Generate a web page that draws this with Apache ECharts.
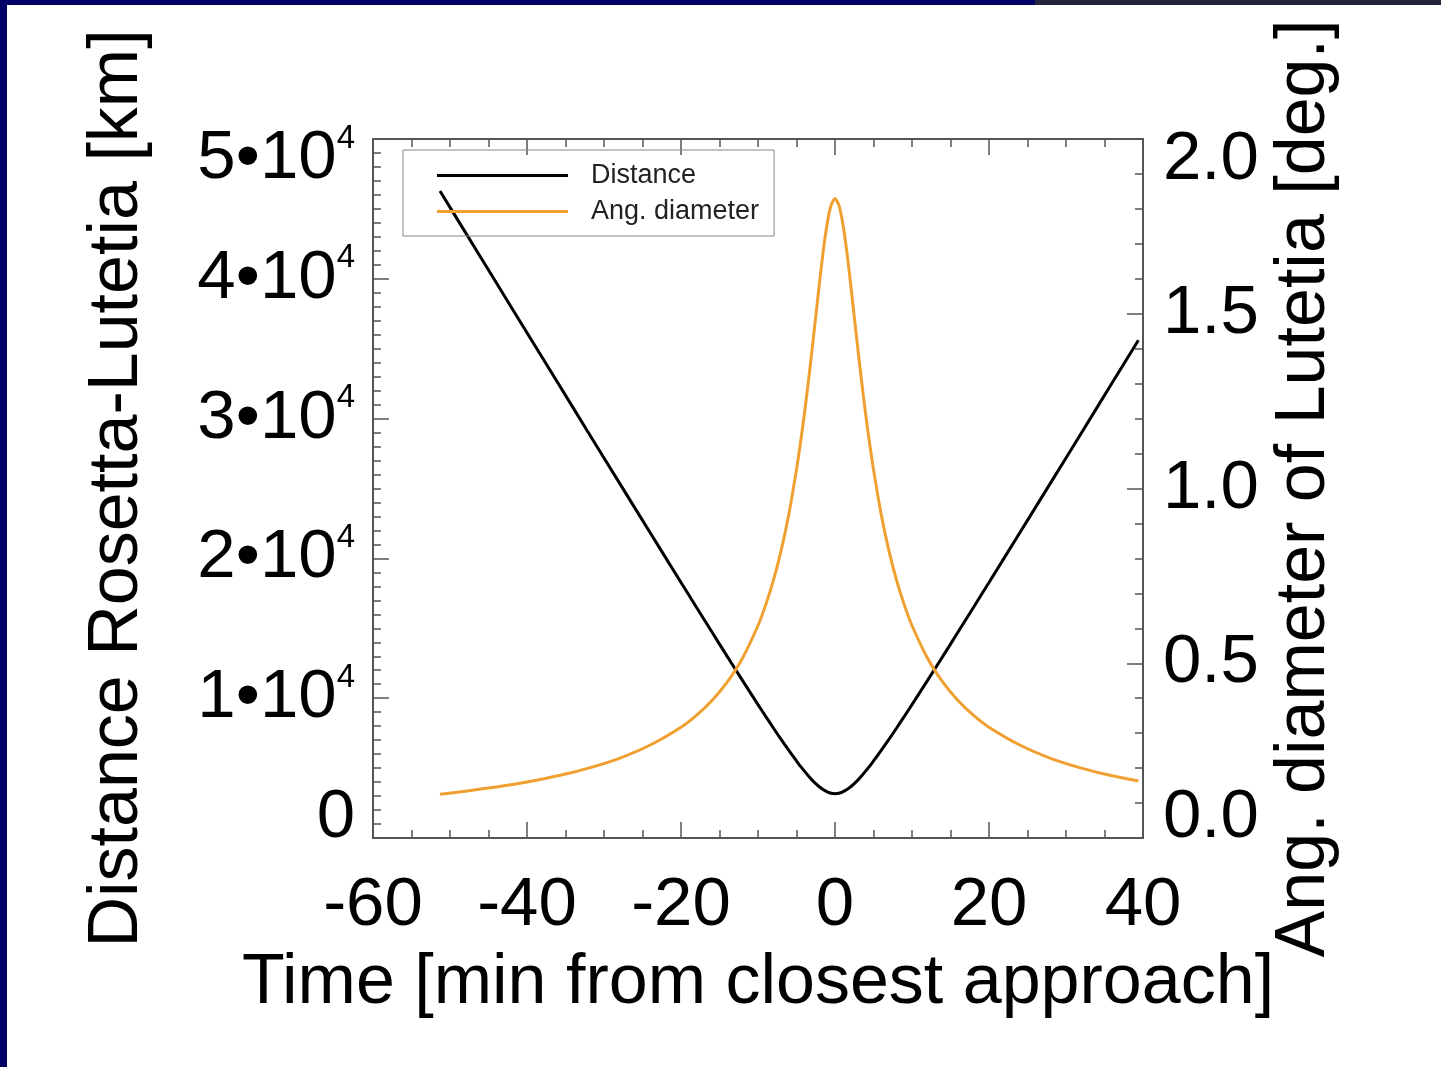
<!DOCTYPE html>
<html><head><meta charset="utf-8">
<script src="https://cdn.jsdelivr.net/npm/echarts@6/dist/echarts.min.js"></script>
<style>html,body{margin:0;padding:0;background:#fff}#c{width:1441px;height:1067px}</style>
</head><body><div id="c"></div>
<script>
// Time [min from closest approach]
const times = [-51.3,-48,-44,-40,-36,-32,-28,-24,-20,-18,-16,-14,-12,-10,-9,-8,-7,-6,-5,-4.5,-4,-3.5,-3,-2.5,-2,-1.5,-1,-0.5,0,0.5,1,1.5,2,2.5,3,3.5,4,4.5,5,6,7,8,9,10,12,14,16,18,20,24,28,32,36,39.4];
// Distance Rosetta-Lutetia [km]
const distanceKm = [46280,43320,39730,36140,32560,28970,25400,21830,18280,16510,14750,12990,11260,9540,8700,7870,7050,6260,5510,5140,4800,4470,4160,3890,3650,3450,3300,3200,3170,3200,3300,3450,3650,3890,4160,4470,4800,5140,5510,6260,7050,7870,8700,9540,11260,12990,14750,16510,18280,21830,25400,28970,32560,35600];
// Ang. diameter of Lutetia [deg.]
const angDiameterDeg = [0.125,0.134,0.146,0.160,0.178,0.200,0.228,0.266,0.317,0.351,0.393,0.446,0.515,0.608,0.667,0.737,0.822,0.926,1.054,1.128,1.209,1.298,1.393,1.492,1.591,1.684,1.760,1.811,1.830,1.811,1.760,1.684,1.591,1.492,1.393,1.298,1.209,1.128,1.054,0.926,0.822,0.737,0.667,0.608,0.515,0.446,0.393,0.351,0.317,0.266,0.228,0.200,0.178,0.163];

const leftTickMantissa = ['0','1•10','2•10','3•10','4•10','5•10'];
const leftTickExponent = '4';
const rightTickLabels = ['0.0','0.5','1.0','1.5','2.0'];
const seriesNames = ['Distance','Ang. diameter'];

const FONT = 'Liberation Sans, Arial, Helvetica, sans-serif';
const AX = '#555';
const TICKFS = 69;

const tickCommon = {show:true, inside:true, length:16, lineStyle:{color:AX, width:1.5}};
const minorCommon = (n)=>({show:true, splitNumber:n, length:8, lineStyle:{color:AX, width:1.5}});

const base = {fontFamily:FONT, fontSize:TICKFS, color:'#000', lineHeight:36};
const sup = {fontFamily:FONT, fontSize:33, color:'#000', lineHeight:36, verticalAlign:'bottom'};
const lineIcon = 'path://M0,0 L131,0 L131,3 L0,3 Z';

const chart = echarts.init(document.getElementById('c'), null, {renderer:'canvas'});
chart.setOption({
  backgroundColor:'#ffffff',
  animation:false,
  graphic:[
    {type:'rect', shape:{x:0,y:0,width:1441,height:5}, style:{fill:'#000066'}, z:100},
    {type:'rect', shape:{x:1035,y:0,width:406,height:5}, style:{fill:'#24243e'}, z:101},
    {type:'rect', shape:{x:0,y:0,width:7,height:1067}, style:{fill:'#000066'}, z:100}
  ],
  grid:{left:373, right:298, top:139, bottom:229, containLabel:false},
  legend:{
    orient:'vertical', left:403, top:150,
    data:seriesNames.map(n=>({name:n, icon:lineIcon})),
    itemWidth:131, itemHeight:20, itemGap:9,
    padding:[12,15,11,34],
    borderColor:'#888', borderWidth:1, borderRadius:0,
    textStyle:{fontFamily:FONT, fontSize:27, color:'#222', padding:[0,0,0,18]}
  },
  xAxis:[
    {type:'value', position:'bottom', min:-60, max:40, interval:20,
     axisLine:{show:true, onZero:false, lineStyle:{color:AX, width:2}},
     axisTick:tickCommon, minorTick:minorCommon(4), splitLine:{show:false},
     axisLabel:{fontFamily:FONT, fontSize:TICKFS, color:'#000', margin:34, lineHeight:68},
     name:'Time [min from closest approach]', nameLocation:'middle', nameGap:111,
     nameTextStyle:{fontFamily:FONT, fontSize:70, color:'#000', lineHeight:70}},
    {type:'value', position:'top', min:-60, max:40, interval:20,
     axisLine:{show:true, onZero:false, lineStyle:{color:AX, width:2}},
     axisTick:tickCommon, minorTick:minorCommon(4), splitLine:{show:false},
     axisLabel:{show:false}}
  ],
  yAxis:[
    {type:'value', position:'left', min:0, max:50000, interval:10000,
     axisLine:{show:true, onZero:false, lineStyle:{color:AX, width:2}},
     axisTick:tickCommon, minorTick:minorCommon(10), splitLine:{show:false},
     axisLabel:{margin:18,
       formatter:(v)=>{
         const i=Math.round(v/10000);
         if(i===0) return '{nb|'+leftTickMantissa[0]+'}';
         if(i===leftTickMantissa.length-1) return '{nt|'+leftTickMantissa[i]+'}{st|'+leftTickExponent+'}';
         return '{n|'+leftTickMantissa[i]+'}{s|'+leftTickExponent+'}';
       },
       rich:{
         n:Object.assign({}, base),
         nt:Object.assign({}, base, {padding:[40,0,0,0]}),
         nb:Object.assign({}, base, {padding:[0,0,40,0]}),
         s:Object.assign({}, sup, {padding:[0,0,22,0]}),
         st:Object.assign({}, sup, {padding:[0,0,2,0]})
       }},
     name:'Distance Rosetta-Lutetia [km]', nameLocation:'middle', nameGap:220, nameRotate:90,
     nameTextStyle:{fontFamily:FONT, fontSize:70, color:'#000', lineHeight:70}},
    {type:'value', position:'right', min:0, max:2, interval:0.5,
     axisLine:{show:true, onZero:false, lineStyle:{color:AX, width:2}},
     axisTick:tickCommon, minorTick:minorCommon(5), splitLine:{show:false},
     axisLabel:{margin:20,
       formatter:(v)=>{
         const i=Math.round(v/0.5);
         if(i===0) return '{rb|'+rightTickLabels[0]+'}';
         if(i===rightTickLabels.length-1) return '{rt|'+rightTickLabels[i]+'}';
         return '{r|'+rightTickLabels[i]+'}';
       },
       rich:{
         r:Object.assign({}, base),
         rt:Object.assign({}, base, {padding:[42,0,0,0]}),
         rb:Object.assign({}, base, {padding:[0,0,40,0]})
       }},
     name:'Ang. diameter of Lutetia [deg.]', nameLocation:'middle', nameGap:127, nameRotate:90,
     nameTextStyle:{fontFamily:FONT, fontSize:70, color:'#000', lineHeight:70}}
  ],
  series:[
    {name:seriesNames[0], type:'line', xAxisIndex:0, yAxisIndex:0, symbol:'none', smooth:0.2,
     lineStyle:{color:'#000', width:3}, itemStyle:{color:'#000'},
     data:times.map((t,i)=>[t,distanceKm[i]])},
    {name:seriesNames[1], type:'line', xAxisIndex:0, yAxisIndex:1, symbol:'none', smooth:0.2,
     lineStyle:{color:'#f0a030', width:3}, itemStyle:{color:'#f0a030'},
     data:times.map((t,i)=>[t,angDiameterDeg[i]])}
  ]
});
</script></body></html>
